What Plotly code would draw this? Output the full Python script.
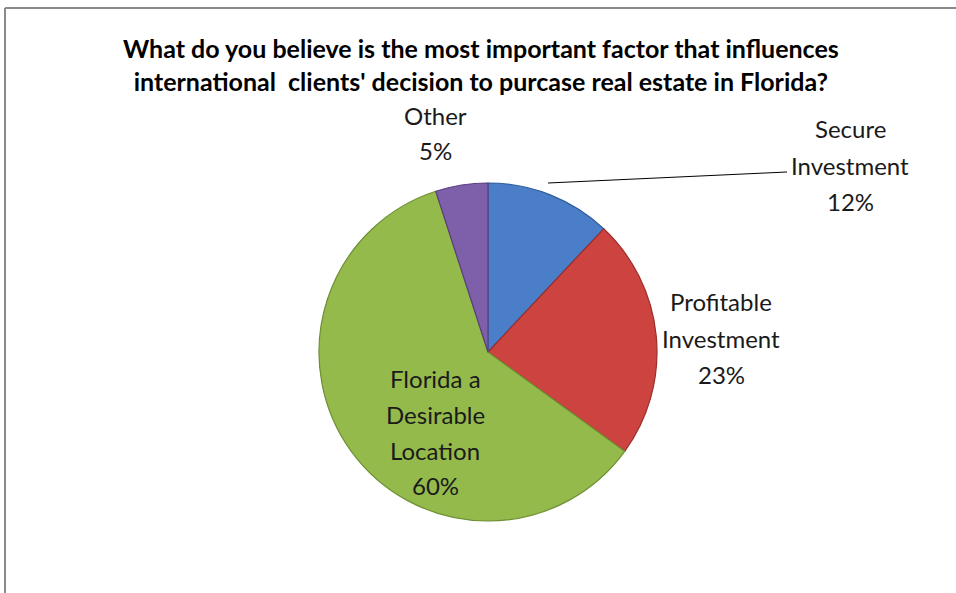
import plotly.graph_objects as go

W, H = 956, 593

categories = ["Secure Investment", "Profitable Investment", "Florida a Desirable Location", "Other"]
values = [12, 23, 60, 5]
label_texts = ["Secure<br>Investment<br>12%", "Profitable<br>Investment<br>23%",
               "Florida a<br>Desirable<br>Location<br>60%", "Other<br>5%"]
colors = ["#4A7EC8", "#CC4340", "#94BA4C", "#7D5FAA"]
line_colors = ["#2F5E9E", "#9A2E2B", "#6E8F33", "#5A4080"]

title_text = ("What do you believe is the most important factor that influences<br>"
              "international  clients' decision to purcase real estate in Florida?")

# pie placement (pixels)
cx, cy, r = 488, 352, 169

fig = go.Figure()
fig.add_trace(go.Pie(
    labels=categories,
    values=values,
    sort=False,
    direction="clockwise",
    rotation=0,
    textinfo="none",
    hoverinfo="label+percent",
    marker=dict(colors=colors, line=dict(color=line_colors, width=1.2)),
    showlegend=False,
    domain=dict(x=[(cx - r) / W, (cx + r) / W], y=[1 - (cy + r) / H, 1 - (cy - r) / H]),
))

# label centre positions (pixels); lines spaced like the reference
label_pos = [(850, 165), (721, 338), (435, 432), (435, 133)]
line_gap = 36
annotations = []
for txt, (px, py) in zip(label_texts, label_pos):
    lines = txt.split("<br>")
    n = len(lines)
    for i, ln in enumerate(lines):
        ly = py + (i - (n - 1) / 2) * line_gap
        annotations.append(dict(
            x=px / W, y=1 - ly / H, xref="paper", yref="paper",
            text=ln, showarrow=False, xanchor="center", yanchor="middle",
            font=dict(family="Lato, 'Open Sans', sans-serif", size=24, color="#1a1a1a"),
        ))

annotations.append(dict(
    x=481 / W, y=1 - 65 / H, xref="paper", yref="paper",
    text="<b>" + title_text + "</b>", showarrow=False, xanchor="center", yanchor="middle",
    font=dict(family="Lato, 'Open Sans', sans-serif", size=25, color="#000000"),
))

shapes = [
    # leader line for Secure Investment
    dict(type="line", xref="paper", yref="paper",
         x0=548 / W, y0=1 - 183 / H, x1=787 / W, y1=1 - 172 / H,
         line=dict(color="#000000", width=1)),
    # chart frame (top and left edges)
    dict(type="line", xref="paper", yref="paper",
         x0=5 / W, y0=1 - 8 / H, x1=1, y1=1 - 8 / H,
         line=dict(color="#8a8a8a", width=2)),
    dict(type="line", xref="paper", yref="paper",
         x0=5 / W, y0=1 - 8 / H, x1=5 / W, y1=0,
         line=dict(color="#8a8a8a", width=2)),
]

fig.update_layout(
    width=W, height=H,
    margin=dict(l=0, r=0, t=0, b=0),
    paper_bgcolor="white",
    plot_bgcolor="white",
    annotations=annotations,
    shapes=shapes,
)

fig.write_html(
    "out.html",
    config={"displayModeBar": False},
    post_script="document.body.style.margin='0px';document.body.style.overflow='hidden';",
)
